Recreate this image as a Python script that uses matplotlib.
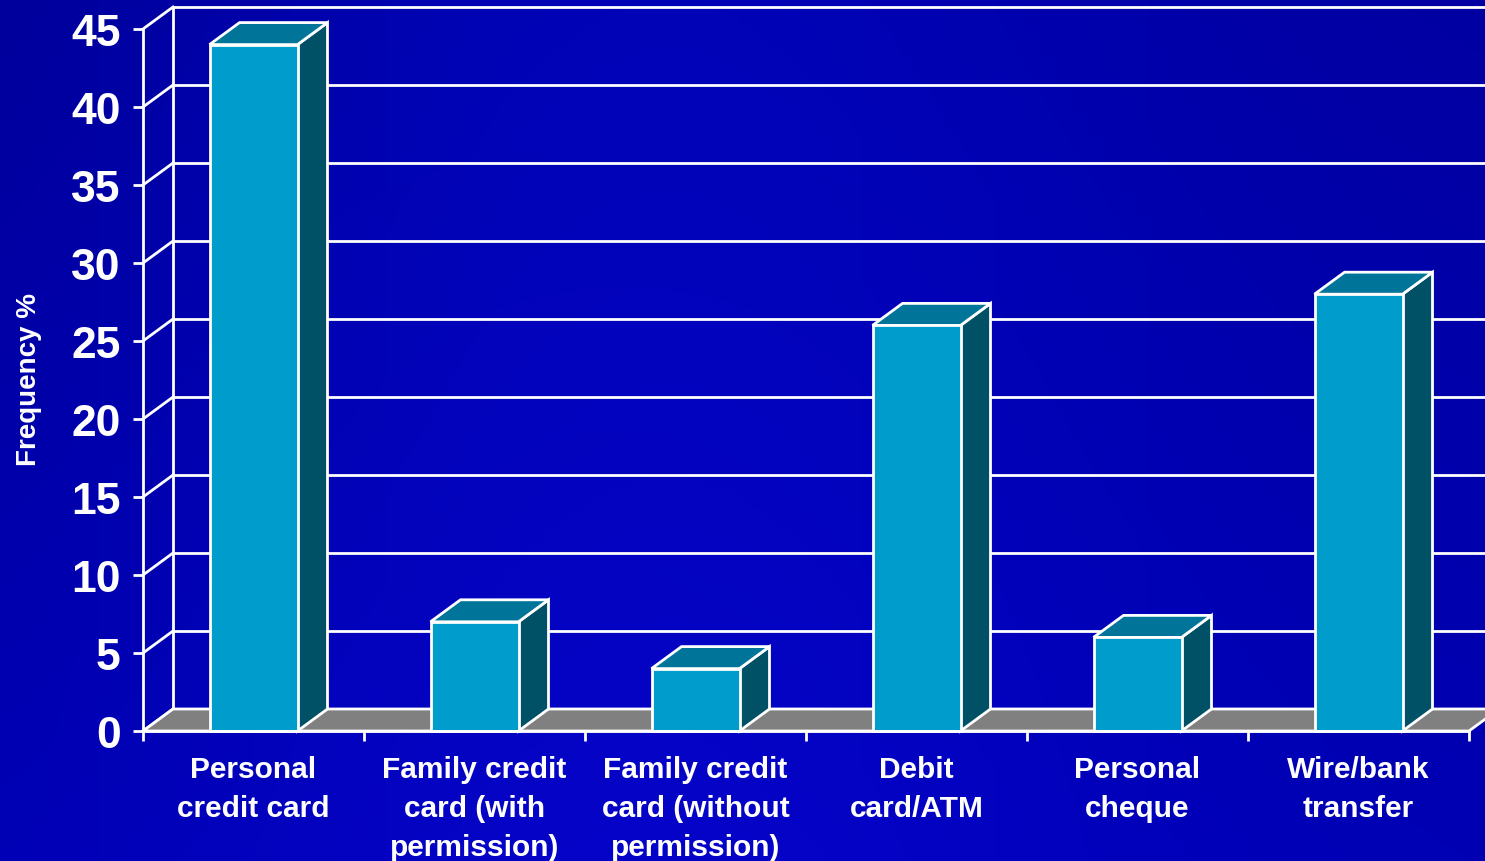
import numpy as np
import matplotlib
matplotlib.use("Agg")
import matplotlib.pyplot as plt

# ---- data ----
categories = ["Personal\ncredit card", "Family credit\ncard (with\npermission)",
              "Family credit\ncard (without\npermission)", "Debit\ncard/ATM",
              "Personal\ncheque", "Wire/bank\ntransfer"]
values = [44, 7, 4, 26, 6, 28]
yticks = [0, 5, 10, 15, 20, 25, 30, 35, 40, 45]
ylabel = "Frequency %"

plt.rcParams['font.family'] = ['Liberation Sans', 'DejaVu Sans']
plt.rcParams['font.weight'] = 'bold'

W, H = 1485, 862
fig = plt.figure(figsize=(W / 100, H / 100), dpi=100)

# background gradient
bg = fig.add_axes([0, 0, 1, 1], zorder=0)
bg.set_axis_off()
xs = np.linspace(0, 1, 300)
ys = np.linspace(0, 1, 200)
X, Y = np.meshgrid(xs, ys)
blue = 160 + 22 * np.exp(-((X - 0.45) / 0.35) ** 2) + 18 * Y  # Y=1 bottom
blue -= 8 * np.clip(1 - X * 3, 0, 1) * (1 - Y)
img = np.zeros((200, 300, 3))
img[..., 0] = np.clip(6 * np.exp(-((X - 0.42) / 0.3) ** 2) * Y, 0, 255) / 255
img[..., 1] = np.clip(4 * np.exp(-((X - 0.42) / 0.3) ** 2), 0, 255) / 255
img[..., 2] = np.clip(blue, 0, 255) / 255
bg.imshow(img, aspect='auto', extent=[0, 1, 0, 1], origin='upper')
bg.set_xlim(0, 1)
bg.set_ylim(0, 1)

# main axes: front plane mapping
x_left, x_right = 143, 1469
y_bot, y_top = 732, 30
ax = fig.add_axes([x_left / W, (H - y_bot) / H, (x_right - x_left) / W, (y_bot - y_top) / H], zorder=1)
ax.patch.set_alpha(0)
n = len(categories)
ax.set_xlim(0, n)
ax.set_ylim(0, 45)

DX = 30 / ((x_right - x_left) / n)
DY = 22 / ((y_bot - y_top) / 45)
BW = 88 / ((x_right - x_left) / n)
LW = 2.0
WHITE = 'white'

# back wall gridlines + diagonals
for v in yticks:
    ax.plot([DX, n + DX + 1], [v + DY, v + DY], color=WHITE, lw=LW, clip_on=False, zorder=1)
    ax.plot([0, DX], [v, v + DY], color=WHITE, lw=LW, clip_on=False, zorder=1)
ax.plot([DX, DX], [DY, 45 + DY], color=WHITE, lw=LW, clip_on=False, zorder=1)

# floor
ax.fill([0, n, n + DX, DX], [0, 0, DY, DY], facecolor='#808080', edgecolor=WHITE,
        lw=LW, clip_on=False, zorder=2)

# bars
for i, v in enumerate(values):
    c = i + 0.5
    x0, x1 = c - BW / 2, c + BW / 2
    ax.fill([x1, x1 + DX, x1 + DX, x1], [0, DY, v + DY, v], facecolor='#005066',
            edgecolor=WHITE, lw=LW, clip_on=False, zorder=3, joinstyle='miter')
    ax.fill([x0, x1, x1 + DX, x0 + DX], [v, v, v + DY, v + DY], facecolor='#007599',
            edgecolor=WHITE, lw=LW, clip_on=False, zorder=3, joinstyle='miter')
    ax.fill([x0, x1, x1, x0], [0, 0, v, v], facecolor='#009CCC',
            edgecolor=WHITE, lw=LW, clip_on=False, zorder=4, joinstyle='miter')

# axes styling
for s in ['top', 'right']:
    ax.spines[s].set_visible(False)
for s in ['left', 'bottom']:
    ax.spines[s].set_color(WHITE)
    ax.spines[s].set_linewidth(LW)
    ax.spines[s].set_zorder(5)

ax.set_yticks(yticks)
ax.set_yticklabels([str(t) for t in yticks])
ax.tick_params(axis='y', colors=WHITE, length=7, width=LW, pad=9, labelsize=32)
ax.set_xticks(np.arange(n + 1))
ax.set_xticklabels([])
ax.tick_params(axis='x', which='major', colors=WHITE, length=7, width=LW)
ax.set_xticks(np.arange(n) + 0.5, minor=True)
ax.set_xticklabels(categories, minor=True, fontsize=21.5, linespacing=1.5)
ax.tick_params(axis='x', which='minor', length=0, pad=17, labelcolor=WHITE)
for lbl in ax.get_yticklabels() + ax.get_xticklabels(minor=True):
    lbl.set_fontweight('bold')

fig.text(29 / W, 1 - 380 / H, ylabel, rotation=90, color=WHITE, fontsize=20,
         fontweight='bold', ha='center', va='center')

fig.savefig("out.png", dpi=100)
